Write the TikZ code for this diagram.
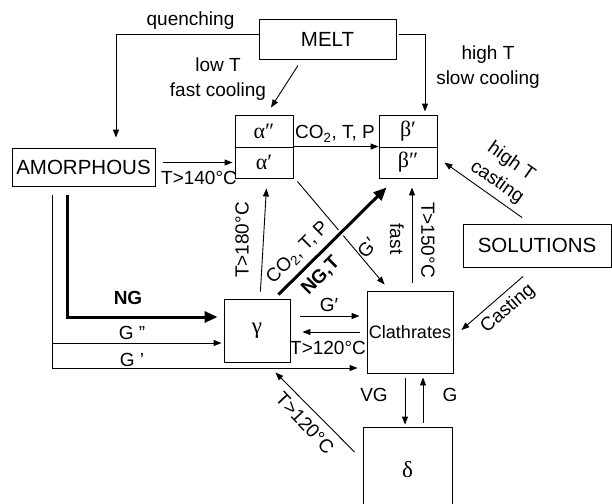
\documentclass[tikz,border=0pt]{standalone}
\usepackage{fontspec}
\setmainfont{Liberation Sans}
\newfontfamily\grk{Liberation Serif}
\usetikzlibrary{arrows.meta, calc}
\tikzset{
  box/.style={draw, line width=0.9pt, inner sep=0pt, font=\fontsize{20.5}{24}\selectfont},
  grkbox/.style={box, font=\grk\fontsize{22}{24}\selectfont},
  lbl/.style={inner sep=0pt, font=\fontsize{19}{25}\selectfont, align=center},
  arr/.style={line width=0.9pt, -{Triangle[length=8pt,width=6pt]}},
  fat/.style={line width=3pt, -{Triangle[length=13pt,width=11pt]}},
}

\begin{document}
\begin{tikzpicture}[x=1pt, y=-1pt]
  \useasboundingbox (0,0) rectangle (612,503);
  \clip (0,0) rectangle (612,503);

  % boxes
  \node[box, minimum width=137pt, minimum height=40pt] (melt) at (327.5,39) {MELT};
  \node[box, minimum width=143pt, minimum height=38pt] (amorph) at (83.5,167) {AMORPHOUS};
  \node[grkbox, minimum width=58pt, minimum height=32pt] (alphaii) at (264,131) {α″};
  \node[grkbox, minimum width=58pt, minimum height=31pt] (alphai) at (264,162.5) {α′};
  \node[grkbox, minimum width=58pt, minimum height=32pt] (betai) at (408,131) {β′};
  \node[grkbox, minimum width=58pt, minimum height=31pt] (betaii) at (408,162.5) {β″};
  \node[box, minimum width=148pt, minimum height=43pt] (solut) at (537,245.5) {SOLUTIONS};
  \node[box, minimum width=86pt, minimum height=82pt, font=\fontsize{18}{22}\selectfont] (clath) at (410,332) {Clathrates};
  \node[grkbox, minimum width=66pt, minimum height=63pt, font=\grk\fontsize{23}{24}\selectfont] (gamma) at (257,330.5) {γ};
  \node[grkbox, minimum width=89pt, minimum height=86pt, font=\grk\fontsize{23}{24}\selectfont] (delta) at (407.5,470) {δ};

  \coordinate (trunk) at ([xshift=-31.5pt]amorph.south);
  \coordinate (gpp) at ([yshift=-12.5pt]gamma.west);

  % from the melt
  \draw[arr, shorten >=10pt] ([yshift=5pt]melt.west) -| ([xshift=32.5pt]amorph.north);
  \node[lbl] (quench) at (190.5,21) {quenching};
  \draw[arr, shorten <=3pt, shorten >=3pt] ([yshift=5pt]melt.east) -| ([xshift=17pt]betai.north);
  \node[lbl] (slowlbl) at (488,67) {high T\\slow cooling};
  \draw[arr] ([xshift=-29.5pt,yshift=-6pt]melt.south) -- ([xshift=7pt,yshift=7pt]alphaii.north);
  \node[lbl] (fastlbl) at (218,79) {low T\\fast cooling};

  % alpha and beta
  \draw[arr, shorten <=8pt, shorten >=2pt] (amorph.east |- alphai.west) -- (alphai.west);
  \node[lbl] (t140) at (199,178) {T>140°C};
  \draw[arr] (alphai.north east) -- (betaii.north west);
  \node[lbl] (co2a) at (335,134) {CO\textsubscript{2}, T, P};
  \draw[arr] ([xshift=4pt,yshift=-3pt]alphai.south east) -- ([xshift=18pt,yshift=6pt]clath.north west);
  \node[lbl, rotate=50] (gclath) at (367,248) {G′};

  % gamma
  \draw[white, line width=7pt] ($([xshift=-12pt,yshift=4pt]gamma.north east)!0.52!([xshift=8pt,yshift=-9pt]betaii.south west)$)
    -- ($([xshift=-12pt,yshift=4pt]gamma.north east)!0.63!([xshift=8pt,yshift=-9pt]betaii.south west)$);
  \draw[fat] ([xshift=-12pt,yshift=4pt]gamma.north east) -- ([xshift=8pt,yshift=-9pt]betaii.south west);
  \node[lbl, rotate=45] (co2b) at (298,253) {CO\textsubscript{2}, T, P};
  \node[lbl, rotate=45, font=\bfseries\fontsize{19}{25}\selectfont] (ngt) at (321,276) {NG,T};
  \draw[arr, shorten <=7pt, shorten >=10pt] ([xshift=3pt]gamma.north) -- ([xshift=3pt]alphai.south);
  \node[lbl, rotate=90] (t180) at (242,240) {T>180°C};
  \draw[arr, shorten <=10pt, shorten >=7pt] ([yshift=14.5pt]gamma.east) -- ([yshift=14.5pt]gamma.east -| clath.west);
  \node[lbl] (ggam) at (329,305) {G′};
  \draw[arr, shorten <=7pt, shorten >=12pt] (clath.west) -- (clath.west -| gamma.east);
  \node[lbl] (t120a) at (328,348) {T>120°C};

  % clathrates
  \draw[arr, shorten <=8pt, shorten >=9pt] ([xshift=2pt]clath.north) -- ([xshift=4pt]betaii.south);
  \node[lbl, rotate=-90] (fast) at (397,239) {fast};
  \node[lbl, rotate=-90] (t150) at (428,240) {T>150°C};
  \draw[arr, shorten <=5pt, shorten >=2pt] ([xshift=-5pt]clath.south) -- ([xshift=-5pt]clath.south |- delta.north);
  \node[lbl] (vg) at (374,395) {VG};
  \draw[arr, shorten <=4pt, shorten >=4pt] ([xshift=13pt]clath.south |- delta.north) -- ([xshift=13pt]clath.south);
  \node[lbl] (g) at (450,395) {G};
  \draw[arr] ([xshift=-8pt,yshift=18pt]delta.west) -- ([xshift=-15pt,yshift=-10pt]gamma.south east);
  \node[lbl, rotate=-47] (t120b) at (305,423) {T>120°C};

  % solutions
  \draw[arr] ([xshift=59.5pt,yshift=6pt]solut.north west) -- ([xshift=7pt]betaii.east);
  \node[lbl, rotate=-35] (castT) at (504,172) {high T\\casting};
  \draw[arr] ([xshift=60.5pt,yshift=-9pt]solut.south west) -- ([xshift=8pt,yshift=2pt]clath.east);
  \node[lbl, rotate=41] (cast) at (508,309) {Casting};

  % amorphous
  \draw[fat, shorten <=9pt, shorten >=6pt] ([xshift=-16.5pt]amorph.south) |- ([yshift=13.5pt]gamma.west);
  \node[lbl, font=\bfseries\fontsize{19}{25}\selectfont] (ng) at (128,298) {NG};
  \draw[arr, shorten <=9pt, shorten >=9pt] (trunk) |- ([yshift=-36pt]clath.west);
  \draw[arr, shorten >=2pt] (trunk |- gpp) -- (gpp);
  \node[lbl] (gpplbl) at (132,333) {G "};
  \node[lbl] (gplbl) at (132,360) {G '};
\end{tikzpicture}
\end{document}
